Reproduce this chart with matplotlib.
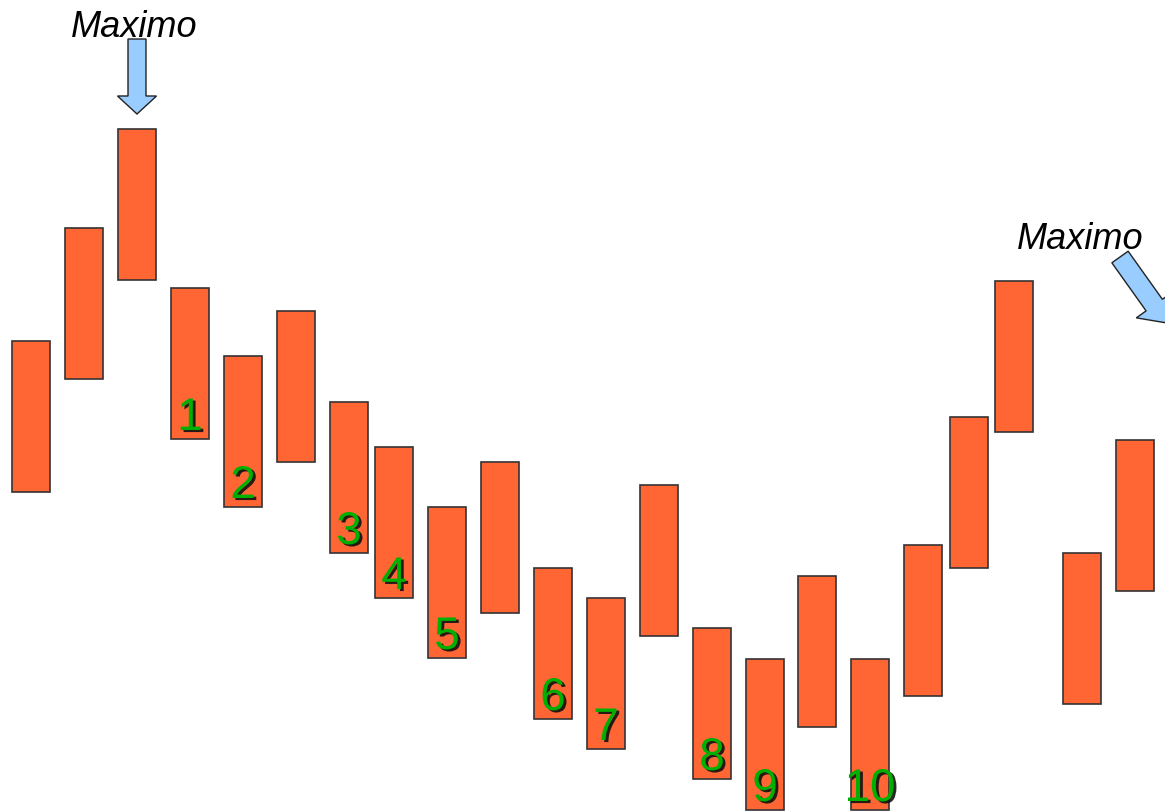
import matplotlib
matplotlib.use('Agg')
from matplotlib import pyplot as plt
from matplotlib.patches import FancyArrow
import matplotlib.patheffects as pe

# bar centres and high/low values (pixel-like units, y up)
xpos = [31, 84, 137, 190, 243, 296, 349, 394, 447, 500, 553,
        606, 659, 712, 765, 817, 870, 923, 969, 1014, 1082, 1135]
highs = [470, 583, 682, 523, 455, 500, 409, 364, 304, 349, 243,
         213, 326, 183, 152, 235, 152, 266, 394, 530, 258, 371]
lows = [319, 432, 531, 372, 304, 349, 258, 213, 153, 198, 92,
        62, 175, 32, 1, 84, 1, 115, 243, 379, 107, 220]

# which bars carry a number
label_bars = [3, 4, 6, 7, 8, 10, 11, 13, 14, 16]
labels = ['1', '2', '3', '4', '5', '6', '7', '8', '9', '10']

maxima_text = ['Maximo', 'Maximo']
maxima_xy = [(134, 774), (1080, 562)]

plt.rcParams['font.family'] = ['Liberation Sans', 'DejaVu Sans']

fig = plt.figure(figsize=(11.65, 8.11), dpi=100)
ax = fig.add_axes([0, 0, 1, 1])
ax.set_xlim(0, 1165)
ax.set_ylim(0, 811)
ax.axis('off')

heights = [h - l for h, l in zip(highs, lows)]
ax.bar(xpos, heights, bottom=lows, width=38, color='#ff6633',
       edgecolor='#333333', linewidth=1.2)

shadow = [pe.SimplePatchShadow(offset=(2, -1.5), shadow_rgbFace='#111111', alpha=0.9),
          pe.Normal()]
for i, lab in zip(label_bars, labels):
    ax.text(xpos[i], lows[i] + 9, lab, ha='center', va='baseline',
            fontsize=33, color='#00b000', path_effects=shadow)

for t, (tx, ty) in zip(maxima_text, maxima_xy):
    ax.text(tx, ty, t, ha='center', va='baseline', fontsize=26,
            style='italic', color='black')

# arrows pointing at the maxima
ax.add_patch(FancyArrow(137, 772, 0, -75, width=18, head_width=39,
                        head_length=18, length_includes_head=True,
                        facecolor='#99ccff', edgecolor='#222222', linewidth=1))
ax.add_patch(FancyArrow(1120, 554, 47, -66, width=20, head_width=44,
                        head_length=22, length_includes_head=True,
                        facecolor='#99ccff', edgecolor='#222222', linewidth=1,
                        clip_on=True))

fig.savefig('out.png', dpi=100)
